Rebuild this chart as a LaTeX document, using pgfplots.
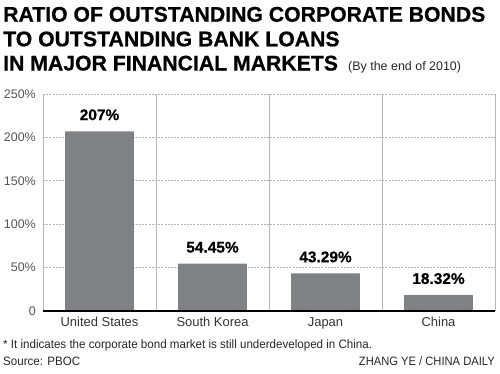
\documentclass[border=0pt]{standalone}
\usepackage{fontspec}
\setmainfont{Liberation Sans}
\newfontfamily\titlefont{Liberation Sans Bold}[FakeBold=0.6]
\usepackage{pgfplots}
\pgfplotsset{compat=1.18}
\definecolor{barcolor}{HTML}{808184}
\definecolor{tickgray}{HTML}{555555}
\definecolor{gridgray}{HTML}{B5B5B5}
\begin{document}
\begin{tikzpicture}[x=1bp,y=1bp]
\useasboundingbox (0,0) rectangle (500,373);
% Title
\node[anchor=base west, inner sep=0, font=\titlefont\fontsize{21.3}{24}\selectfont] at (3,351.3) {RATIO OF OUTSTANDING CORPORATE BONDS};
\node[anchor=base west, inner sep=0, font=\titlefont\fontsize{21.3}{24}\selectfont] at (3,326.7) {TO OUTSTANDING BANK LOANS};
\node[anchor=base west, inner sep=0, font=\titlefont\fontsize{21.3}{24}\selectfont] (l3) at (3,302.5) {IN MAJOR FINANCIAL MARKETS};
\node[anchor=base west, inner sep=0, font=\fontsize{12.5}{14}\selectfont, text=black!85] at (348,302.5) {(By the end of 2010)};
\begin{axis}[
  at={(43bp,62bp)}, anchor=south west,
  scale only axis, width=452bp, height=217bp,
  xmin=-0.5, xmax=3.5, ymin=0, ymax=250,
  axis line style={draw=none},
  major tick length=0pt,
  ytick={0,50,100,150,200,250},
  yticklabels={0,50\%,100\%,150\%,200\%,250\%},
  yticklabel style={font=\fontsize{12.5}{13}\selectfont, text=tickgray, inner sep=0pt, anchor=east, xshift=-7bp},
  xtick={0,1,2,3},
  xticklabels={United States,South Korea,Japan,China},
  xticklabel style={font=\fontsize{13}{14}\selectfont, text=black!80, inner sep=0pt, anchor=north, text height=9.4bp, yshift=-6.3bp},
  ymajorgrids,
  major grid style={dash pattern=on 2bp off 1.2bp, color=gridgray, line width=0.7bp},
  extra x ticks={-0.5,0.5,1.5,2.5,3.5},
  extra x tick labels={},
  extra x tick style={grid=major, major grid style={solid, color=gridgray, line width=0.8bp}},
  clip=false,
]
\addplot[ybar, bar width=0.61, fill=barcolor, draw=none,
  nodes near coords, point meta=explicit symbolic,
  every node near coord/.append style={font=\titlefont\fontsize{15.5}{16}\selectfont, text=black, anchor=south, inner sep=0pt, text depth=0pt, yshift=11bp}]
  coordinates {(0,207)[207\%] (1,54.45)[54.45\%] (2,43.29)[43.29\%] (3,18.32)[18.32\%]};
\draw[black, line width=1.5bp] (axis cs:-0.5,0) -- (axis cs:3.5,0);
\end{axis}
% Footer
\node[anchor=base west, inner sep=0, font=\fontsize{12.2}{14}\selectfont, text=black!85] at (3,24.7) {\scalebox{0.953}[1]{* It indicates the corporate bond market is still underdeveloped in China.}};
\node[anchor=base west, inner sep=0, font=\fontsize{12.2}{14}\selectfont, text=black!85] at (3,7.3) {\scalebox{0.953}[1]{Source: PBOC}};
\node[anchor=base east, inner sep=0, font=\fontsize{12.2}{14}\selectfont, text=black!85] at (495,7.3) {\scalebox{0.92}[1]{ZHANG YE / CHINA DAILY}};
\end{tikzpicture}
\end{document}
